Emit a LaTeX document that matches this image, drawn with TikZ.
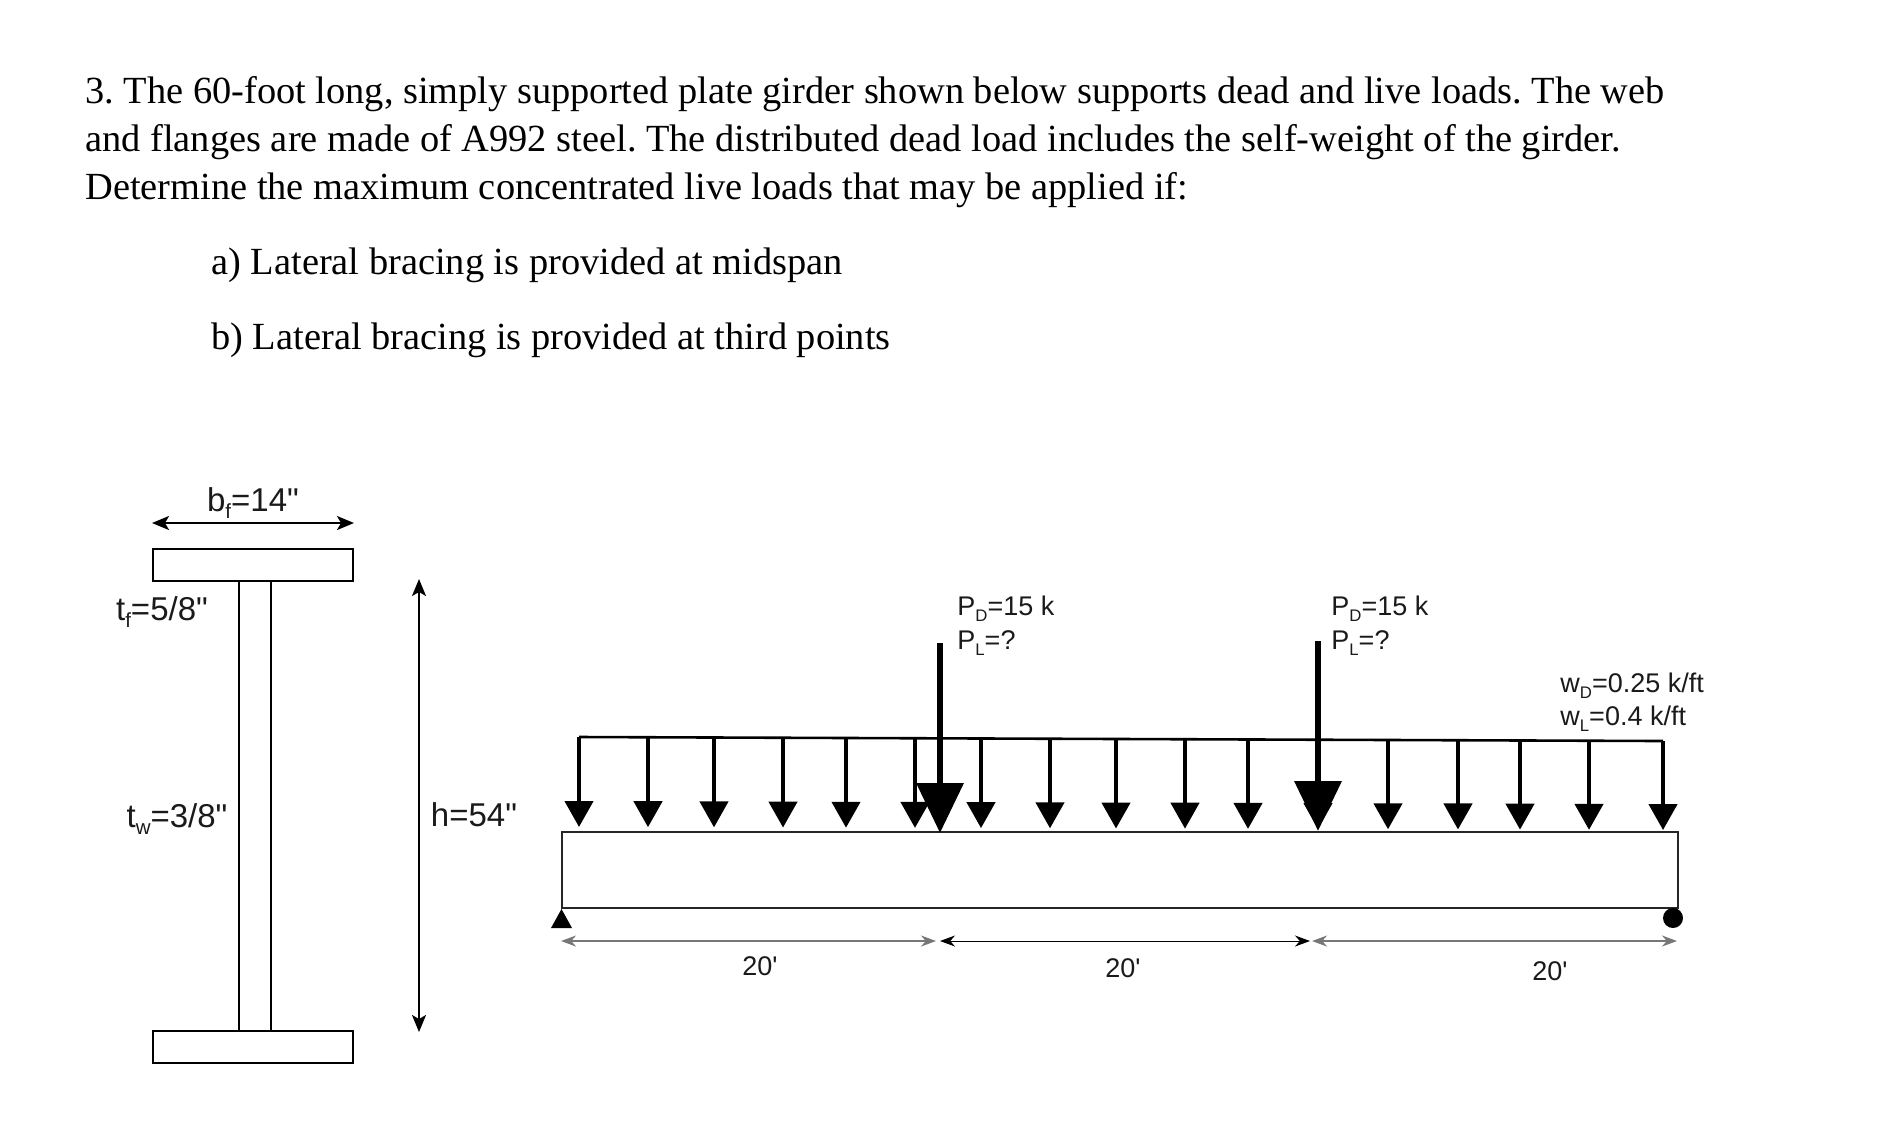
\documentclass[tikz,border=0pt]{standalone}
\usepackage{fontspec}
\usepackage{xcolor}
\setmainfont{Liberation Serif}
\newfontfamily\labelfont{Liberation Sans}
\usetikzlibrary{positioning,arrows.meta}
\newcommand{\subtx}[1]{\raisebox{-.22em}{\scalebox{.62}{#1}}}
\definecolor{inktext}{HTML}{1A1A1A}
\definecolor{dimgray}{HTML}{777777}
\frenchspacing
\tikzset{
    question/.style={
        anchor=base west, inner sep=0pt, text=black,
        font=\fontsize{19.2}{22}\selectfont
    },
    seclabel/.style={
        inner sep=0pt, text=inktext,
        font=\labelfont\fontsize{16.5}{20}\selectfont
    },
    beamlabel/.style={
        inner sep=0pt, text=inktext,
        font=\labelfont\fontsize{13.5}{16}\selectfont
    },
    plate/.style={
        rectangle, draw=black, line width=1.3pt, outer sep=0pt, inner sep=0pt
    },
    udl/.style={
        -{Stealth[length=13pt,width=14pt,inset=0pt]}, line width=2.2pt
    },
    bigload/.style={
        -{Stealth[length=25pt,width=23pt,inset=0pt]}, line width=3.4pt
    },
    secdim/.style={
        {Stealth[length=8.5pt,width=7pt,inset=2pt]}-{Stealth[length=8.5pt,width=7pt,inset=2pt]},
        line width=1pt
    },
    spandim/.style={
        {Stealth[length=7.5pt,width=5.5pt,inset=2.4pt]}-{Stealth[length=7.5pt,width=5.5pt,inset=2.4pt]},
        line width=.5pt
    }
}

\begin{document}
\begin{tikzpicture}[x=0.5pt,y=-0.5pt]
        \useasboundingbox (0,0) rectangle (1882,1120);

        % Question
        \node[question] (q1) at (85,103.5) {3. The 60-foot long, simply supported plate girder shown below supports dead and live loads. The web};
        \node[question] (q2) at (85,151.5) {and flanges are made of A992 steel. The distributed dead load includes the self-weight of the girder.};
        \node[question] (q3) at (85,199.5) {Determine the maximum concentrated live loads that may be applied if:};
        \node[question] (qa) at (211,274.5) {a) Lateral bracing is provided at midspan};
        \node[question] (qb) at (211,349.5) {b) Lateral bracing is provided at third points};

        % Section
        \node[plate, minimum width=100pt, minimum height=16pt] (topf) at (253,565) {};
        \node[plate, minimum width=100pt, minimum height=16pt] (botf) at (253,1047) {};
        \node[plate, minimum width=16pt, minimum height=225pt] (web) at (255,806) {};

        \coordinate (bfl) at (152,523);
        \coordinate (bfr) at (354,523);
        \coordinate (ht) at (419,579);
        \coordinate (hb) at (419,1032);
        \draw[secdim] (bfl) -- (bfr);
        \draw[secdim] (ht) -- (hb);

        \node[seclabel] (bf) at (253,503) {b\subtx{f}=14"};
        \node[seclabel] (tf) at (162,612) {t\subtx{f}=5/8"};
        \node[seclabel] (tw) at (177,819) {t\subtx{w}=3/8"};
        \node[seclabel] (h) at (474,815) {h=54"};

        % Beam
        \node[plate, line width=1pt, draw=black!85, minimum width=558pt, minimum height=38pt] (beam) at (1120,870) {};

        % Supports
        \fill (551,928) -- (561.5,909) -- (572,928) -- cycle;
        \node[circle, fill=black, minimum size=10pt, inner sep=0pt] (roller) at (1673,918) {};

        % Distributed load
        \coordinate (ll) at (579,737);
        \coordinate (lr) at (1663,741);
        \draw[line width=1.3pt] (ll) -- (lr);
        \foreach \x in {579,648,714,783,846,915,981,1050,1116,1185,1248,1318,1388,1458,1520,1589,1663} {
            \coordinate (t\x) at (\x,{737+(\x-579)*0.0037});
            \coordinate (b\x) at (\x,{827+(\x-579)*0.0028});
            \draw[udl] (t\x) -- (b\x);
        }

        % Point loads
        \coordinate (p1t) at (940,643);
        \coordinate (p1b) at (940,833);
        \coordinate (p2t) at (1318,641);
        \coordinate (p2b) at (1318,831);
        \draw[bigload] (p1t) -- (p1b);
        \draw[bigload] (p2t) -- (p2b);

        % Spans
        \coordinate (s0) at (561,941);
        \coordinate (s1) at (936,941);
        \coordinate (s2) at (940,941);
        \coordinate (s3) at (1310,941);
        \coordinate (s4) at (1312,941);
        \coordinate (s5) at (1677,941);
        \draw[spandim, dimgray, line width=.9pt] (s0) -- (s1);
        \draw[spandim] (s2) -- (s3);
        \draw[spandim, dimgray, line width=.9pt] (s4) -- (s5);

        % Labels
        \node[beamlabel] (s1l) at (760,966) {20'};
        \node[beamlabel] (s2l) at (1123,968) {20'};
        \node[beamlabel] (s3l) at (1550,971) {20'};

        \node[beamlabel, anchor=west] (pd1) at (957,609) {P\subtx{D}=15 k};
        \node[beamlabel, anchor=west] (pl1) at (957,643) {P\subtx{L}=?};
        \node[beamlabel, anchor=west] (pd2) at (1331,609) {P\subtx{D}=15 k};
        \node[beamlabel, anchor=west] (pl2) at (1331,643) {P\subtx{L}=?};
        \node[beamlabel, anchor=west] (wd) at (1560,686) {w\subtx{D}=0.25 k/ft};
        \node[beamlabel, anchor=west] (wl) at (1560,719) {w\subtx{L}=0.4 k/ft};

\end{tikzpicture}
\end{document}
